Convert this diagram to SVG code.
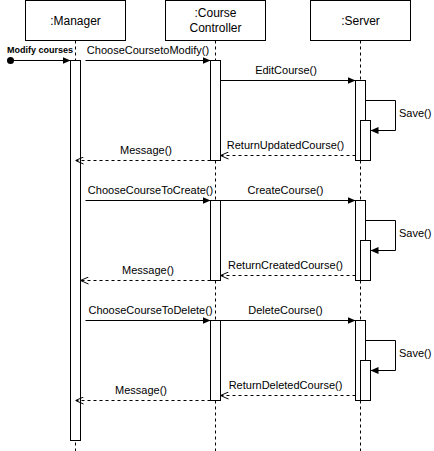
<svg xmlns="http://www.w3.org/2000/svg" width="434" height="451" viewBox="0 0 434 451">
  <style>
    .box { fill: #ffffff; stroke: #000000; stroke-width: 1; }
    .life { fill: none; stroke: #000000; stroke-width: 1; stroke-dasharray: 3 3; }
    .act { fill: #ffffff; stroke: #000000; stroke-width: 1; }
    .msg { fill: none; stroke: #000000; stroke-width: 1; }
    .ret { fill: none; stroke: #000000; stroke-width: 1; stroke-dasharray: 3 3; }
    text { font-family: "Liberation Sans", Arial, sans-serif; font-size: 11px; fill: #000000; }
    .head { font-size: 12px; text-anchor: middle; }
    .mid { text-anchor: middle; }
    .small { font-size: 9px; font-weight: bold; text-anchor: middle; }
  </style>
  <defs>
    <marker id="block" viewBox="0 0 8 8" refX="8" refY="4" markerWidth="8" markerHeight="8" markerUnits="userSpaceOnUse" orient="auto">
      <path d="M0,0.5 L8,4 L0,7.5 Z" fill="#000000"/>
    </marker>
    <marker id="open" viewBox="0 0 8 8" refX="8" refY="4" markerWidth="8" markerHeight="8" markerUnits="userSpaceOnUse" orient="auto">
      <path d="M0,0.5 L8,4 L0,7.5" fill="none" stroke="#000000" stroke-width="1"/>
    </marker>
  </defs>

  <!-- lifelines -->
  <g id="lifelines">
    <line class="life" x1="75.5" y1="40.5" x2="75.5" y2="451"/>
    <line class="life" x1="215.5" y1="40.5" x2="215.5" y2="451"/>
    <line class="life" x1="360.5" y1="40.5" x2="360.5" y2="451"/>
  </g>

  <!-- participants -->
  <g id="manager">
    <rect class="box" x="25.5" y="0.5" width="100" height="40"/>
    <text class="head" x="75.5" y="25">:Manager</text>
    <rect class="act" x="70.5" y="60.5" width="10" height="380"/>
  </g>
  <g id="controller">
    <rect class="box" x="165.5" y="0.5" width="100" height="40"/>
    <text class="head" x="215.5" y="17">:Course</text>
    <text class="head" x="215.5" y="31.5">Controller</text>
    <rect class="act" x="210.5" y="60.5" width="10" height="100"/>
    <rect class="act" x="210.5" y="200.5" width="10" height="80"/>
    <rect class="act" x="210.5" y="320.5" width="10" height="80"/>
  </g>
  <g id="server">
    <rect class="box" x="310.5" y="0.5" width="100" height="40"/>
    <text class="head" x="360.5" y="25">:Server</text>
    <rect class="act" x="355.5" y="80.5" width="10" height="80"/>
    <rect class="act" x="360.5" y="120.5" width="10" height="40"/>
    <rect class="act" x="355.5" y="200.5" width="10" height="80"/>
    <rect class="act" x="360.5" y="240.5" width="10" height="40"/>
    <rect class="act" x="355.5" y="320.5" width="10" height="80"/>
    <rect class="act" x="360.5" y="360.5" width="10" height="40"/>
  </g>

  <!-- messages -->
  <g id="connectors">
    <!-- found message -->
    <circle cx="10.5" cy="60.5" r="3.5" fill="#000000"/>
    <line class="msg" x1="10.5" y1="60.5" x2="70.5" y2="60.5" marker-end="url(#block)"/>
    <text class="small" x="40" y="53">Modify courses</text>

    <!-- modify -->
    <line class="msg" x1="85.5" y1="60.5" x2="210.5" y2="60.5" marker-end="url(#block)"/>
    <text class="mid" x="148" y="54">ChooseCoursetoModify()</text>
    <line class="msg" x1="220.5" y1="80.5" x2="355.5" y2="80.5" marker-end="url(#block)"/>
    <text class="mid" x="286" y="74">EditCourse()</text>
    <path class="msg" d="M365.5,100.5 H395.5 V130.5 H370.5" marker-end="url(#block)"/>
    <text x="399" y="117">Save()</text>
    <line class="ret" x1="355.5" y1="155.5" x2="220.5" y2="155.5" marker-end="url(#open)"/>
    <text class="mid" x="285.5" y="149">ReturnUpdatedCourse()</text>
    <line class="ret" x1="210.5" y1="160.5" x2="75.5" y2="160.5" marker-end="url(#open)"/>
    <text class="mid" x="146" y="154">Message()</text>

    <!-- create -->
    <line class="msg" x1="85.5" y1="200.5" x2="210.5" y2="200.5" marker-end="url(#block)"/>
    <text class="mid" x="150.5" y="194">ChooseCourseToCreate()</text>
    <line class="msg" x1="220.5" y1="200.5" x2="355.5" y2="200.5" marker-end="url(#block)"/>
    <text class="mid" x="285.5" y="194">CreateCourse()</text>
    <path class="msg" d="M365.5,220.5 H395.5 V250.5 H370.5" marker-end="url(#block)"/>
    <text x="399" y="237">Save()</text>
    <line class="ret" x1="355.5" y1="275.5" x2="220.5" y2="275.5" marker-end="url(#open)"/>
    <text class="mid" x="285.5" y="269">ReturnCreatedCourse()</text>
    <line class="ret" x1="210.5" y1="280.5" x2="80.5" y2="280.5" marker-end="url(#open)"/>
    <text class="mid" x="148" y="274">Message()</text>

    <!-- delete -->
    <line class="msg" x1="85.5" y1="320.5" x2="210.5" y2="320.5" marker-end="url(#block)"/>
    <text class="mid" x="150.5" y="314">ChooseCourseToDelete()</text>
    <line class="msg" x1="220.5" y1="320.5" x2="355.5" y2="320.5" marker-end="url(#block)"/>
    <text class="mid" x="285.5" y="314">DeleteCourse()</text>
    <path class="msg" d="M365.5,340.5 H395.5 V370.5 H370.5" marker-end="url(#block)"/>
    <text x="399" y="357">Save()</text>
    <line class="ret" x1="355.5" y1="395.5" x2="220.5" y2="395.5" marker-end="url(#open)"/>
    <text class="mid" x="285.5" y="389">ReturnDeletedCourse()</text>
    <line class="ret" x1="210.5" y1="400.5" x2="75.5" y2="400.5" marker-end="url(#open)"/>
    <text class="mid" x="141" y="394">Message()</text>
  </g>
</svg>
